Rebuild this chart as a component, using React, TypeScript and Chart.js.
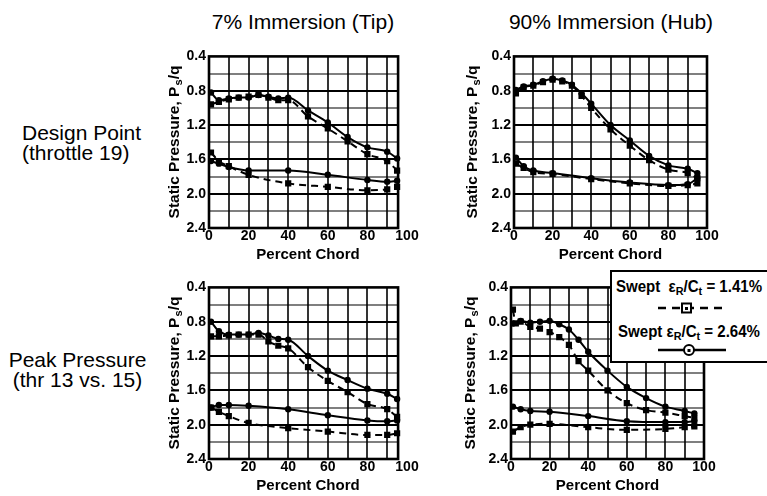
import React, { useEffect, useRef } from 'react';
import { Chart, registerables } from 'chart.js';

Chart.register(...registerables);

const FONT = '"Liberation Sans", Arial, Helvetica, sans-serif';
Chart.defaults.font.family = FONT;

// ---------- data ----------
const chordUpper = [1, 5, 10, 15, 20, 25, 30, 35, 40, 50, 60, 70, 80, 90, 95];
const chordUpperHubPeakDashed = [1, 2.5, 5, 10, 15, 20, 25, 30, 35, 40, 50, 60, 70, 80, 90, 95];
const chordLower = [1, 5, 10, 20, 40, 60, 80, 90, 95];
const xTickValues = [0, 20, 40, 60, 80, 100];
const yTickValues = [0.4, 0.8, 1.2, 1.6, 2.0, 2.4];

// 7% immersion (tip), design point
const tipDesignUpper264 = [0.82, 0.91, 0.89, 0.88, 0.88, 0.85, 0.87, 0.89, 0.88, 1.03, 1.17, 1.34, 1.46, 1.51, 1.59];
const tipDesignUpper141 = [0.96, 0.93, 0.90, 0.88, 0.87, 0.85, 0.88, 0.91, 0.91, 1.10, 1.24, 1.39, 1.54, 1.62, 1.73];
const tipDesignLower264 = [1.62, 1.65, 1.69, 1.73, 1.73, 1.78, 1.84, 1.86, 1.85];
const tipDesignLower141 = [1.52, 1.62, 1.68, 1.78, 1.88, 1.92, 1.96, 1.95, 1.92];

// 90% immersion (hub), design point
const hubDesignUpper264 = [0.79, 0.75, 0.73, 0.69, 0.66, 0.68, 0.73, 0.83, 0.95, 1.20, 1.38, 1.56, 1.67, 1.71, 1.76];
const hubDesignUpper141 = [0.83, 0.76, 0.74, 0.70, 0.67, 0.69, 0.74, 0.86, 1.00, 1.25, 1.44, 1.61, 1.72, 1.76, 1.82];
const hubDesignLower264 = [1.58, 1.68, 1.73, 1.76, 1.82, 1.87, 1.90, 1.89, 1.82];
const hubDesignLower141 = [1.65, 1.70, 1.75, 1.77, 1.83, 1.88, 1.91, 1.90, 1.88];

// 7% immersion (tip), peak pressure
const tipPeakUpper264 = [0.80, 0.91, 0.95, 0.95, 0.95, 0.93, 0.96, 1.00, 1.01, 1.20, 1.37, 1.48, 1.58, 1.64, 1.70];
const tipPeakUpper141 = [0.97, 0.97, 0.96, 0.95, 0.95, 0.95, 1.03, 1.08, 1.11, 1.33, 1.49, 1.62, 1.76, 1.82, 1.91];
const tipPeakLower264 = [1.80, 1.77, 1.77, 1.78, 1.82, 1.89, 1.95, 1.96, 1.95];
const tipPeakLower141 = [1.80, 1.85, 1.90, 1.98, 2.04, 2.08, 2.12, 2.12, 2.10];

// 90% immersion (hub), peak pressure
const hubPeakUpper264 = [0.82, 0.79, 0.81, 0.80, 0.79, 0.83, 0.89, 1.01, 1.15, 1.37, 1.56, 1.69, 1.79, 1.84, 1.87];
const hubPeakUpper141 = [0.66, 0.82, 0.80, 0.86, 0.88, 0.92, 0.98, 1.07, 1.26, 1.37, 1.60, 1.75, 1.83, 1.86, 1.90, 1.92];
const hubPeakLower264 = [1.79, 1.82, 1.84, 1.85, 1.90, 1.96, 1.97, 1.97, 1.96];
const hubPeakLower141 = [2.08, 2.03, 2.00, 1.99, 2.03, 2.06, 2.05, 2.03, 2.02];

type Series = { chord: number[]; values: number[]; dashed: boolean };
type PanelCfg = { left: number; top: number; w: number; h: number; xEnd: number; series: Series[] };

const panels: PanelCfg[] = [
  {
    left: 164, top: 45, w: 257, h: 219, xEnd: 95.5,
    series: [
      { chord: chordUpper, values: tipDesignUpper264, dashed: false },
      { chord: chordUpper, values: tipDesignUpper141, dashed: true },
      { chord: chordLower, values: tipDesignLower264, dashed: false },
      { chord: chordLower, values: tipDesignLower141, dashed: true },
    ],
  },
  {
    left: 469, top: 45, w: 252, h: 219, xEnd: 100,
    series: [
      { chord: chordUpper, values: hubDesignUpper264, dashed: false },
      { chord: chordUpper, values: hubDesignUpper141, dashed: true },
      { chord: chordLower, values: hubDesignLower264, dashed: false },
      { chord: chordLower, values: hubDesignLower141, dashed: true },
    ],
  },
  {
    left: 164, top: 276, w: 257, h: 219, xEnd: 95.5,
    series: [
      { chord: chordUpper, values: tipPeakUpper264, dashed: false },
      { chord: chordUpper, values: tipPeakUpper141, dashed: true },
      { chord: chordLower, values: tipPeakLower264, dashed: false },
      { chord: chordLower, values: tipPeakLower141, dashed: true },
    ],
  },
  {
    left: 466, top: 276, w: 252, h: 219, xEnd: 100,
    series: [
      { chord: chordUpper, values: hubPeakUpper264, dashed: false },
      { chord: chordUpperHubPeakDashed, values: hubPeakUpper141, dashed: true },
      { chord: chordLower, values: hubPeakLower264, dashed: false },
      { chord: chordLower, values: hubPeakLower141, dashed: true },
    ],
  },
];

function framePlugin(xEnd: number) {
  return {
    id: 'frame',
    beforeDatasetsDraw(chart: any) {
      const { ctx, scales } = chart;
      const x = scales.x;
      const y = scales.y;
      const x0 = x.getPixelForValue(0);
      const x1 = x.getPixelForValue(xEnd);
      const y0 = y.getPixelForValue(0.4);
      const y1 = y.getPixelForValue(2.4);
      ctx.save();
      ctx.strokeStyle = '#000';
      ctx.lineWidth = 1.6;
      for (let v = 10; v < xEnd - 0.5; v += 10) {
        const px = Math.round(x.getPixelForValue(v));
        ctx.beginPath();
        ctx.moveTo(px, y0);
        ctx.lineTo(px, y1);
        ctx.stroke();
      }
      for (let k = 1; k < 10; k++) {
        const py = Math.round(y.getPixelForValue(0.4 + k * 0.2));
        ctx.lineWidth = k % 2 === 0 ? 2 : 1.2;
        ctx.beginPath();
        ctx.moveTo(x0, py);
        ctx.lineTo(x1, py);
        ctx.stroke();
      }
      ctx.lineWidth = 2.6;
      ctx.strokeRect(x0, y0, x1 - x0, y1 - y0);
      ctx.restore();
    },
  };
}

function Panel({ cfg }: { cfg: PanelCfg }) {
  const ref = useRef<HTMLCanvasElement>(null);
  useEffect(() => {
    const datasets = cfg.series.map((s) => ({
      data: s.chord.map((c, i) => ({ x: c, y: s.values[i] })),
      borderColor: '#000',
      backgroundColor: '#000',
      borderWidth: 2,
      borderDash: s.dashed ? [7, 5] : [],
      pointStyle: s.dashed ? 'rect' : 'circle',
      pointRadius: s.dashed ? 4.4 : 3.2,
      pointBorderWidth: 0,
      pointBackgroundColor: '#000',
      cubicInterpolationMode: 'monotone' as const,
      fill: false,
    }));
    const chart = new Chart(ref.current as HTMLCanvasElement, {
      type: 'line',
      data: { datasets },
      options: {
        animation: false,
        responsive: false,
        maintainAspectRatio: false,
        events: [],
        layout: { padding: { top: 10, right: 14, left: 0, bottom: 0 } },
        plugins: { legend: { display: false }, tooltip: { enabled: false } },
        scales: {
          x: {
            type: 'linear',
            min: 0,
            max: 100,
            grid: { display: false, drawTicks: false },
            border: { display: false },
            afterBuildTicks: (s: any) => {
              s.ticks = xTickValues.map((v) => ({ value: v }));
            },
            afterFit: (s: any) => {
              s.height = 36;
            },
            ticks: {
              color: '#000',
              padding: 0,
              maxRotation: 0,
              autoSkip: false,
              font: { family: FONT, size: 14, weight: 'bold' },
            },
            title: {
              display: true,
              text: 'Percent Chord',
              color: '#000',
              padding: 0,
              font: { family: FONT, size: 15, weight: 'bold' },
            },
          },
          y: {
            type: 'linear',
            reverse: true,
            min: 0.4,
            max: 2.4,
            grid: { display: false, drawTicks: false },
            border: { display: false },
            afterBuildTicks: (s: any) => {
              s.ticks = yTickValues.map((v) => ({ value: v }));
            },
            afterFit: (s: any) => {
              s.width = 45;
            },
            ticks: {
              color: '#000',
              padding: 3,
              autoSkip: false,
              callback: (v: any) => Number(v).toFixed(1),
              font: { family: FONT, size: 14, weight: 'bold' },
            },
          },
        },
      } as any,
      plugins: [framePlugin(cfg.xEnd)],
    });
    return () => chart.destroy();
  }, []);
  return (
    <canvas
      ref={ref}
      width={cfg.w}
      height={cfg.h}
      style={{ position: 'absolute', left: cfg.left, top: cfg.top, width: cfg.w, height: cfg.h }}
    />
  );
}

function YTitle({ cx, cy }: { cx: number; cy: number }) {
  return (
    <div
      style={{
        position: 'absolute',
        left: cx,
        top: cy,
        transform: 'translate(-50%, -50%) rotate(-90deg)',
        whiteSpace: 'nowrap',
        fontWeight: 'bold',
        fontSize: 15.5,
        lineHeight: '18px',
      }}
    >
      Static Pressure, P<sub style={{ fontSize: '0.72em', verticalAlign: '-0.3em', marginLeft: 1 }}>s</sub>/q
    </div>
  );
}

export default function App() {
  const legendText: React.CSSProperties = {
    position: 'absolute',
    left: 610,
    width: 158,
    textAlign: 'center',
    fontWeight: 'bold',
    fontSize: 16,
    lineHeight: '18px',
    whiteSpace: 'nowrap',
    transform: 'scaleX(0.94)',
  };
  const subStyle: React.CSSProperties = { fontSize: '0.72em', verticalAlign: '-0.3em' };
  return (
    <div
      style={{
        position: 'absolute',
        left: 0,
        top: 0,
        width: 767,
        height: 496,
        overflow: 'hidden',
        background: '#fff',
        color: '#000',
        fontFamily: FONT,
      }}
    >
      <div style={{ position: 'absolute', left: 153, width: 300, top: 10, textAlign: 'center', fontSize: 21, lineHeight: '24px' }}>
        7% Immersion (Tip)
      </div>
      <div style={{ position: 'absolute', left: 461, width: 300, top: 10, textAlign: 'center', fontSize: 21, lineHeight: '24px' }}>
        90% Immersion (Hub)
      </div>
      <div style={{ position: 'absolute', left: 22, top: 123, fontSize: 21, lineHeight: '20px', whiteSpace: 'nowrap' }}>
        Design Point
        <br />
        (throttle 19)
      </div>
      <div style={{ position: 'absolute', left: 0, width: 155, top: 350, textAlign: 'center', fontSize: 21, lineHeight: '20px', whiteSpace: 'nowrap' }}>
        Peak Pressure
        <br />
        (thr 13 vs. 15)
      </div>

      {panels.map((p, i) => (
        <Panel key={i} cfg={p} />
      ))}

      <YTitle cx={176} cy={141.5} />
      <YTitle cx={474} cy={141.5} />
      <YTitle cx={176} cy={372.5} />
      <YTitle cx={472} cy={372.5} />

      <div
        style={{
          position: 'absolute',
          left: 610,
          top: 270,
          width: 170,
          height: 89,
          border: '2px solid #000',
          background: '#fff',
        }}
      />
      <div style={{ ...legendText, top: 278 }}>
        Swept&nbsp; ε<sub style={subStyle}>R</sub>/C<sub style={subStyle}>t</sub> = 1.41%
      </div>
      <svg style={{ position: 'absolute', left: 650, top: 300 }} width={80} height={16}>
        <line x1={8} y1={8} x2={74} y2={8} stroke="#000" strokeWidth={2.5} strokeDasharray="8 6" />
        <rect x={32} y={3.5} width={9} height={9} fill="#fff" stroke="#000" strokeWidth={2} />
        <rect x={35} y={7} width={3} height={3} fill="#000" />
      </svg>
      <div style={{ ...legendText, top: 323 }}>
        Swept ε<sub style={subStyle}>R</sub>/C<sub style={subStyle}>t</sub> = 2.64%
      </div>
      <svg style={{ position: 'absolute', left: 650, top: 342 }} width={80} height={16}>
        <line x1={8} y1={8} x2={76} y2={8} stroke="#000" strokeWidth={2.5} />
        <circle cx={39} cy={8} r={5} fill="#fff" stroke="#000" strokeWidth={2} />
        <rect x={37.5} y={7} width={3} height={3} fill="#000" />
      </svg>
    </div>
  );
}
